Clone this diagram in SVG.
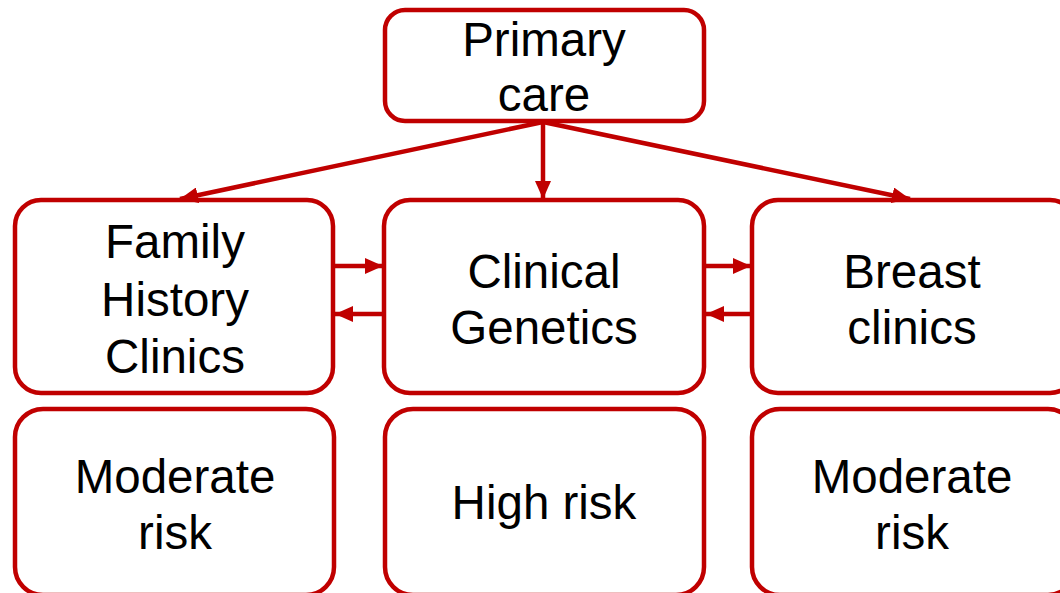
<svg xmlns="http://www.w3.org/2000/svg" width="1060" height="593" viewBox="0 0 1060 593">
<style>
.box{fill:#fff;stroke:#C00000;stroke-width:4.5}
.lbl{font-family:"Liberation Sans",Arial,sans-serif;font-size:47.5px;fill:#000;text-anchor:middle}
.con{stroke:#C00000;stroke-width:4.5;fill:none}
</style>
<defs>
<marker id="ah" markerUnits="userSpaceOnUse" markerWidth="18" markerHeight="16" refX="18" refY="8" orient="auto">
<path d="M0,0 L18,8 L0,16 Z" fill="#C00000"/>
</marker>
</defs>
<rect width="1060" height="593" fill="#fff"/>
<g id="n-primary">
<rect class="box" x="385" y="10" width="319" height="111" rx="20"/>
<text class="lbl" x="544" y="56">Primary</text>
<text class="lbl" x="544" y="111">care</text>
</g>
<g id="n-family">
<rect class="box" x="15" y="200" width="318" height="193" rx="26"/>
<text class="lbl" x="175" y="258">Family</text>
<text class="lbl" x="175" y="316">History</text>
<text class="lbl" x="175" y="373">Clinics</text>
</g>
<g id="n-genetics">
<rect class="box" x="384" y="200" width="320" height="193" rx="26"/>
<text class="lbl" x="544" y="288">Clinical</text>
<text class="lbl" x="544" y="344">Genetics</text>
</g>
<g id="n-breast">
<rect class="box" x="752" y="200" width="324" height="193" rx="26"/>
<text class="lbl" x="912" y="288">Breast</text>
<text class="lbl" x="912" y="344">clinics</text>
</g>
<g id="n-mod1">
<rect class="box" x="15" y="409" width="319" height="186" rx="28"/>
<text class="lbl" x="175" y="493">Moderate</text>
<text class="lbl" x="175" y="549">risk</text>
</g>
<g id="n-high">
<rect class="box" x="385" y="409" width="319" height="186" rx="28"/>
<text class="lbl" x="544" y="519">High risk</text>
</g>
<g id="n-mod2">
<rect class="box" x="752" y="409" width="324" height="186" rx="28"/>
<text class="lbl" x="912" y="493">Moderate</text>
<text class="lbl" x="912" y="549">risk</text>
</g>
<g id="connectors">
<line class="con" x1="543" y1="122" x2="180" y2="199" marker-end="url(#ah)"/>
<line class="con" x1="543" y1="122" x2="543" y2="199" marker-end="url(#ah)"/>
<line class="con" x1="543" y1="122" x2="910" y2="199" marker-end="url(#ah)"/>
<line class="con" x1="335" y1="266" x2="383" y2="266" marker-end="url(#ah)"/>
<line class="con" x1="383" y1="314" x2="335" y2="314" marker-end="url(#ah)"/>
<line class="con" x1="706" y1="266" x2="751" y2="266" marker-end="url(#ah)"/>
<line class="con" x1="751" y1="314" x2="706" y2="314" marker-end="url(#ah)"/>
</g>
</svg>
